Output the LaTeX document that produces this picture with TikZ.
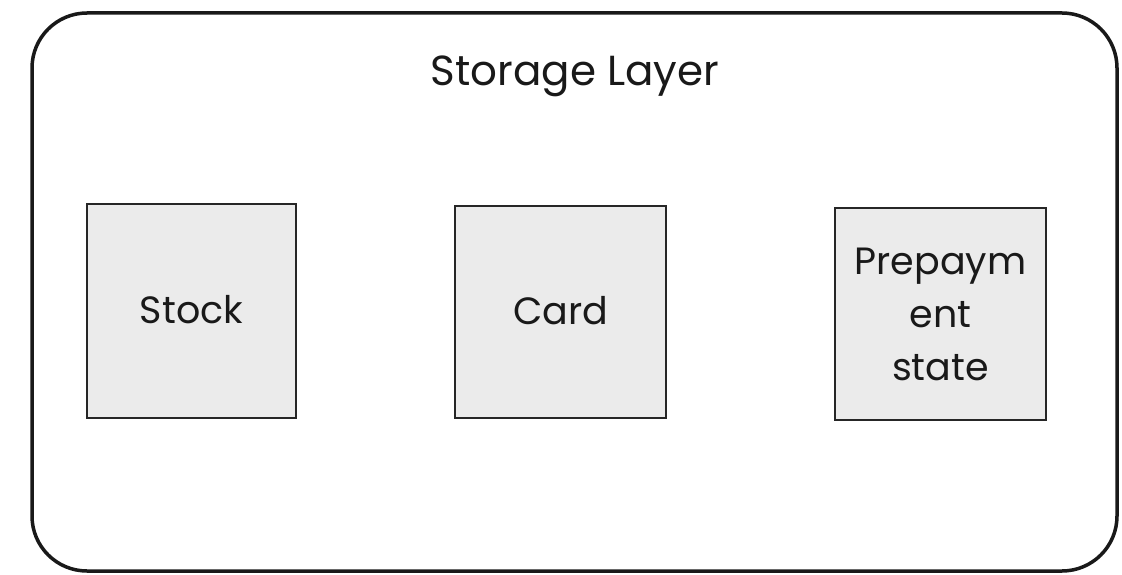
\documentclass[tikz,border=0pt]{standalone}
\usepackage{fontspec}
\setmainfont{Poppins}
\begin{document}
\begin{tikzpicture}[x=1pt,y=-1pt,
  frame/.style={draw=black!90,line width=3.5pt,rounded corners=55pt},
  store/.style={draw=black!85,line width=2pt,fill=black!8},
  label/.style={font=\fontsize{38}{53}\selectfont,text=black!90,align=center}]
\useasboundingbox (0,0) rectangle (1122,575);
% outer layer frame
\draw[frame] (32,13) rectangle (1117,571);
\node[label,font=\fontsize{42}{50}\selectfont] (title) at (575,76) {Storage Layer};
% storage boxes
\draw[store] (87,204) rectangle (296,418);
\draw[store] (455,206) rectangle (666,418);
\draw[store] (835,208) rectangle (1046,420);
\node[label] (stock) at (191.5,310) {Stock};
\node[label] (card) at (560.5,311) {Card};
\node[label] (prep) at (940.5,314) {Prepaym\\ent\\state};
\end{tikzpicture}
\end{document}
